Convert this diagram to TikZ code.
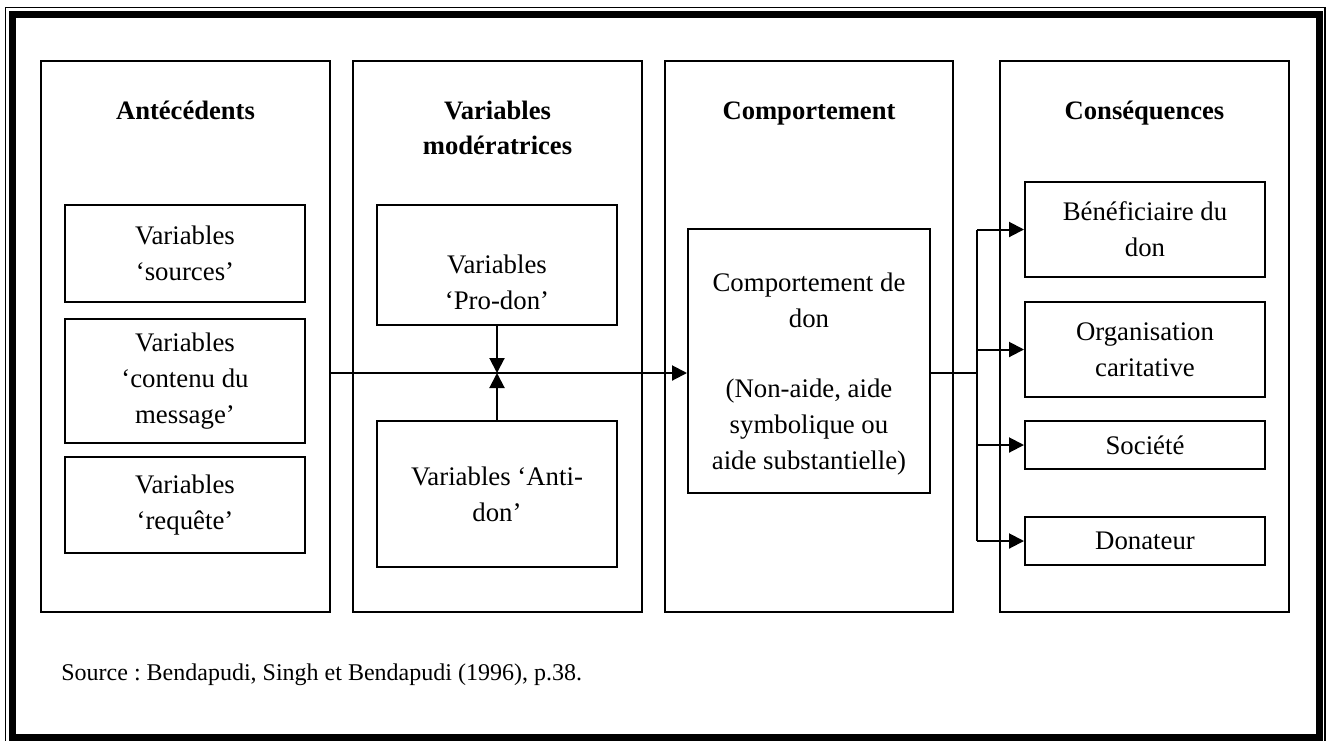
\documentclass[tikz,border=0pt]{standalone}
\usepackage{fontspec}
\setmainfont{Liberation Serif}
\frenchspacing
\usetikzlibrary{arrows.meta}
\begin{document}
\begin{tikzpicture}[x=0.5pt,y=-0.5pt,
  box/.style={draw,line width=1pt,inner sep=0pt},
  txt/.style={align=center,font=\fontsize{13.4}{18}\selectfont,inner sep=0pt},
  hdr/.style={align=center,font=\fontsize{13.3}{17.5}\bfseries\selectfont,inner sep=0pt},
  arr/.style={line width=1pt,-{Triangle[length=7.5pt,width=7.5pt]}},
  ln/.style={line width=1pt}]
\useasboundingbox (0,0) rectangle (1333,740);
% frame
\draw[line width=0.8pt] (5.5,7.5) rectangle (1325,760);
\draw[line width=3.5pt] (12.5,14) rectangle (1319,737.5);
% columns
\node[box,minimum width=144.5pt,minimum height=275.5pt] (colA) at (185.5,336.5) {};
\node[box,minimum width=144.5pt,minimum height=275.5pt] (colB) at (497.5,336.5) {};
\node[box,minimum width=144pt,minimum height=275.5pt] (colC) at (809,336.5) {};
\node[box,minimum width=144.5pt,minimum height=275.5pt] (colD) at (1144.5,336.5) {};
% headers
\node[hdr,anchor=north] (hA) at (185.5,101) {Antécédents};
\node[hdr,anchor=north] (hB) at (497.5,101) {Variables\\modératrices};
\node[hdr,anchor=north] (hC) at (809,101) {Comportement};
\node[hdr,anchor=north] (hD) at (1144.5,101) {Conséquences};
% antecedents
\node[box,txt,minimum width=120pt,minimum height=48.5pt] (src) at (185,253.5) {Variables\\‘sources’};
\node[box,txt,minimum width=120pt,minimum height=62pt] (msg) at (185,381) {Variables\\‘contenu du\\message’};
\node[box,txt,minimum width=120pt,minimum height=48pt] (req) at (185,505) {Variables\\‘requête’};
% moderators
\node[box,minimum width=120pt,minimum height=60pt] (pro) at (497,265) {};
\node[txt] (proT) at (497,282) {Variables\\‘Pro-don’};
\node[box,txt,minimum width=120pt,minimum height=73pt] (anti) at (497,494) {Variables ‘Anti-\\don’};
% behaviour
\node[box,minimum width=121pt,minimum height=132pt] (comp) at (809,361) {};
\node[txt] (compT) at (809,374) {Comportement de\\don\\[17pt](Non-aide, aide\\symbolique ou\\aide substantielle)};
% consequences
\node[box,txt,minimum width=120pt,minimum height=47.5pt] (ben) at (1145,229.5) {Bénéficiaire du\\don};
\node[box,txt,minimum width=120pt,minimum height=47.5pt] (org) at (1145,349.5) {Organisation\\caritative};
\node[box,txt,minimum width=120pt,minimum height=24pt] (soc) at (1145,445) {Société};
\node[box,txt,minimum width=120pt,minimum height=24pt] (don) at (1145,541) {Donateur};
% connectors
\coordinate (j) at (497,373);
\coordinate (bus) at (977,373);
\draw[arr] (colA.east |- j) -- (comp.west |- j);
\draw[arr] (pro.south) -- (j);
\draw[arr] (anti.north) -- (j);
\draw[ln] (comp.east |- j) -- (bus);
\draw[ln] (bus |- ben.west) -- (bus |- don.west);
\draw[arr] (bus |- ben.west) -- (ben.west);
\draw[arr] (bus |- org.west) -- (org.west);
\draw[arr] (bus |- soc.west) -- (soc.west);
\draw[arr] (bus |- don.west) -- (don.west);
% source
\node[font=\fontsize{12}{15}\selectfont,anchor=base west,inner sep=0pt] (note) at (61,680) {Source : Bendapudi, Singh et Bendapudi (1996), p.38.};
\end{tikzpicture}
\end{document}
